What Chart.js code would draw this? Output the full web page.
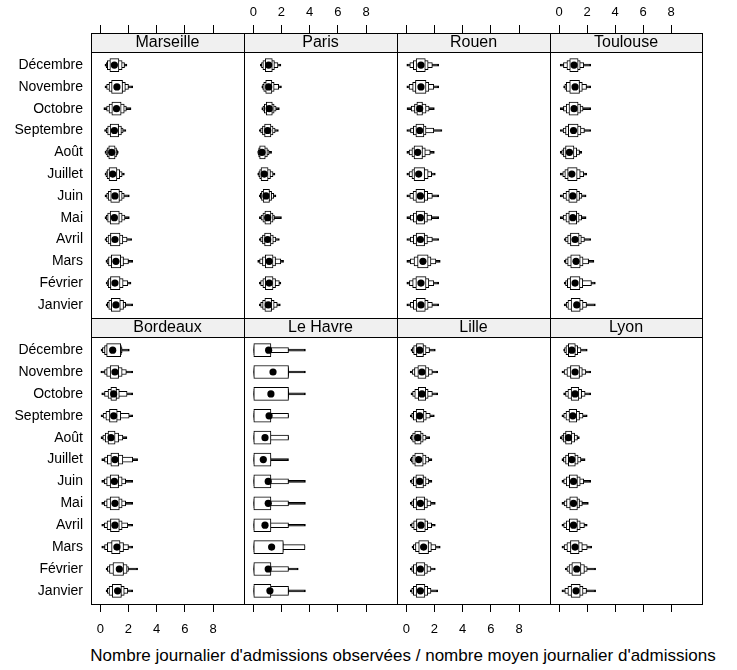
<!DOCTYPE html>
<html>
<head>
<meta charset="utf-8">
<script src="https://cdn.jsdelivr.net/npm/chart.js@4.4.1/dist/chart.umd.min.js"></script>
<style>
  body { margin: 0; background: #fff; }
  #wrap { position: relative; width: 737px; height: 670px; overflow: hidden; }
  #wrap canvas { position: absolute; left: 0; top: 0; }
  #xtitle { position: absolute; left: 0; width: 806px; top: 646px; text-align: center;
            font: 17px "Liberation Sans", Arial, sans-serif; color: #000; white-space: nowrap; }
</style>
</head>
<body>
<div id="wrap">
  <div id="xtitle">Nombre journalier d'admissions observées / nombre moyen journalier d'admissions</div>
</div>
<script>
// months from top to bottom of each panel
const months = ['Décembre', 'Novembre', 'Octobre', 'Septembre', 'Août', 'Juillet',
                'Juin', 'Mai', 'Avril', 'Mars', 'Février', 'Janvier'];
const xTicks = [0, 2, 4, 6, 8];

// each row: [median, lo1, hi1, lo2, hi2, lo3, hi3, lo4, hi4]  (letter values, level 1 = quartiles)
const marseille = [
  [1.00, 0.68, 1.32, 0.50, 1.55, 0.42, 1.72, 0.33, 1.89],
  [1.18, 0.80, 1.58, 0.62, 1.78, 0.45, 2.00, 0.33, 2.30],
  [1.15, 0.82, 1.48, 0.62, 1.70, 0.45, 1.85, 0.25, 2.18],
  [1.00, 0.70, 1.30, 0.52, 1.50, 0.42, 1.62, 0.30, 1.82],
  [0.81, 0.60, 1.05, 0.48, 1.15, 0.40, 1.22, 0.33, 1.28],
  [0.88, 0.62, 1.18, 0.48, 1.38, 0.40, 1.55, 0.33, 1.71],
  [1.04, 0.74, 1.36, 0.56, 1.55, 0.45, 1.70, 0.33, 2.06],
  [1.00, 0.70, 1.35, 0.52, 1.55, 0.42, 1.75, 0.33, 2.06],
  [1.04, 0.72, 1.40, 0.55, 1.60, 0.42, 1.90, 0.33, 2.23],
  [1.11, 0.78, 1.45, 0.58, 1.65, 0.48, 2.00, 0.40, 2.30],
  [1.04, 0.72, 1.40, 0.56, 1.62, 0.48, 1.95, 0.41, 2.18],
  [1.11, 0.78, 1.42, 0.60, 1.65, 0.50, 1.80, 0.41, 2.30]
];
const paris = [
  [1.09, 0.85, 1.35, 0.68, 1.50, 0.58, 1.75, 0.50, 1.96],
  [1.09, 0.88, 1.32, 0.74, 1.48, 0.66, 1.80, 0.60, 2.00],
  [1.13, 0.92, 1.35, 0.78, 1.48, 0.68, 1.62, 0.60, 1.85],
  [1.02, 0.80, 1.25, 0.65, 1.40, 0.52, 1.55, 0.43, 1.78],
  [0.62, 0.45, 0.85, 0.38, 1.00, 0.34, 1.12, 0.31, 1.30],
  [0.78, 0.55, 1.05, 0.45, 1.22, 0.38, 1.40, 0.31, 1.54],
  [0.90, 0.70, 1.15, 0.58, 1.30, 0.50, 1.45, 0.43, 1.61],
  [1.02, 0.82, 1.25, 0.68, 1.40, 0.55, 1.50, 0.43, 2.00],
  [1.02, 0.80, 1.25, 0.65, 1.42, 0.52, 1.60, 0.43, 1.85],
  [1.13, 0.85, 1.40, 0.65, 1.58, 0.45, 1.95, 0.31, 2.15],
  [1.13, 0.85, 1.40, 0.68, 1.58, 0.52, 1.85, 0.43, 1.96],
  [1.06, 0.82, 1.30, 0.66, 1.48, 0.52, 1.70, 0.43, 1.92]
];
const rouen = [
  [1.04, 0.70, 1.35, 0.50, 1.55, 0.25, 1.85, 0.00, 2.30],
  [1.04, 0.65, 1.40, 0.45, 1.60, 0.20, 1.95, 0.00, 2.30],
  [0.95, 0.75, 1.15, 0.58, 1.40, 0.35, 1.62, 0.05, 1.99],
  [0.95, 0.68, 1.25, 0.50, 1.40, 0.30, 1.95, 0.00, 2.53],
  [0.81, 0.55, 1.15, 0.40, 1.35, 0.20, 1.70, 0.00, 1.99],
  [0.88, 0.55, 1.30, 0.40, 1.55, 0.20, 1.80, 0.00, 2.06],
  [1.00, 0.68, 1.30, 0.48, 1.52, 0.25, 1.85, 0.00, 2.30],
  [1.00, 0.70, 1.30, 0.50, 1.50, 0.28, 1.80, 0.00, 2.30],
  [1.00, 0.70, 1.30, 0.50, 1.50, 0.28, 1.85, 0.00, 2.30],
  [1.18, 0.80, 1.55, 0.55, 1.75, 0.28, 2.10, 0.00, 2.41],
  [1.04, 0.68, 1.40, 0.45, 1.60, 0.22, 1.95, 0.00, 2.30],
  [1.04, 0.70, 1.35, 0.50, 1.55, 0.28, 1.85, 0.00, 2.30]
];
const toulouse = [
  [1.06, 0.75, 1.35, 0.55, 1.50, 0.30, 1.75, 0.07, 2.25],
  [1.13, 0.75, 1.45, 0.50, 1.65, 0.40, 1.95, 0.31, 2.25],
  [1.06, 0.70, 1.35, 0.50, 1.52, 0.30, 1.70, 0.07, 2.25],
  [1.02, 0.65, 1.35, 0.45, 1.55, 0.28, 1.80, 0.07, 2.25],
  [0.73, 0.45, 1.05, 0.30, 1.25, 0.18, 1.45, 0.07, 1.61],
  [0.90, 0.60, 1.28, 0.40, 1.50, 0.25, 1.75, 0.07, 1.96],
  [0.97, 0.68, 1.28, 0.48, 1.45, 0.28, 1.62, 0.07, 1.92],
  [0.97, 0.68, 1.25, 0.48, 1.42, 0.28, 1.60, 0.07, 1.92],
  [1.13, 0.80, 1.42, 0.60, 1.58, 0.45, 1.80, 0.35, 2.25],
  [1.20, 0.82, 1.50, 0.60, 1.70, 0.45, 2.10, 0.35, 2.48],
  [1.13, 0.78, 1.48, 0.58, 1.68, 0.45, 2.30, 0.35, 2.58],
  [1.25, 0.85, 1.50, 0.62, 1.70, 0.50, 1.95, 0.35, 2.58]
];
const bordeaux = [
  [0.88, 0.45, 1.45, 0.30, 1.50, 0.15, 1.55, 0.05, 2.06],
  [1.04, 0.70, 1.30, 0.45, 1.55, 0.30, 1.85, 0.00, 2.30],
  [0.95, 0.75, 1.15, 0.55, 1.35, 0.30, 1.90, 0.10, 2.30],
  [0.95, 0.65, 1.20, 0.40, 1.45, 0.20, 2.05, 0.05, 2.30],
  [0.76, 0.55, 1.05, 0.35, 1.30, 0.18, 1.60, 0.05, 1.89],
  [1.04, 0.75, 1.30, 0.50, 1.60, 0.30, 2.30, 0.10, 2.65],
  [1.00, 0.70, 1.30, 0.45, 1.55, 0.28, 1.80, 0.10, 2.30],
  [1.04, 0.70, 1.35, 0.45, 1.55, 0.28, 1.80, 0.10, 2.30],
  [1.04, 0.72, 1.35, 0.48, 1.55, 0.28, 1.95, 0.10, 2.30],
  [1.18, 0.80, 1.40, 0.50, 1.65, 0.30, 2.00, 0.10, 2.30],
  [1.35, 0.90, 1.65, 0.65, 1.90, 0.50, 2.00, 0.41, 2.65],
  [1.23, 0.85, 1.50, 0.62, 1.70, 0.50, 1.95, 0.41, 2.30]
];
const leHavre = [
  [1.09, 0, 1.25, 0, 1.25, 0, 2.50, 0, 3.70],
  [1.40, 0, 2.50, 0, 2.50, 0, 2.50, 0, 3.70],
  [1.25, 0, 2.50, 0, 2.50, 0, 2.50, 0, 3.70],
  [1.12, 0, 1.25, 0, 1.25, 0, 2.50, 0, 2.50],
  [0.83, 0, 1.25, 0, 1.25, 0, 2.50, 0, 2.50],
  [0.71, 0, 1.25, 0, 1.25, 0, 1.25, 0, 2.50],
  [1.06, 0, 1.25, 0, 1.25, 0, 2.50, 0, 3.70],
  [1.06, 0, 1.25, 0, 1.25, 0, 2.50, 0, 3.70],
  [0.83, 0, 1.25, 0, 1.25, 0, 2.50, 0, 3.70],
  [1.30, 0, 2.13, 0, 2.13, 0, 3.67, 0, 3.67],
  [1.06, 0, 1.25, 0, 1.25, 0, 2.50, 0, 3.19],
  [1.18, 0, 1.25, 0, 2.50, 0, 2.50, 0, 3.70]
];
const lille = [
  [0.95, 0.72, 1.22, 0.52, 1.40, 0.42, 1.65, 0.33, 2.06],
  [1.11, 0.82, 1.40, 0.58, 1.60, 0.42, 1.85, 0.28, 2.23],
  [1.11, 0.85, 1.38, 0.60, 1.55, 0.45, 1.85, 0.33, 2.23],
  [0.95, 0.70, 1.25, 0.50, 1.42, 0.38, 1.70, 0.28, 1.99],
  [0.81, 0.60, 1.05, 0.45, 1.20, 0.35, 1.40, 0.28, 1.66],
  [0.88, 0.60, 1.20, 0.45, 1.40, 0.35, 1.60, 0.28, 1.82],
  [0.95, 0.68, 1.22, 0.50, 1.40, 0.38, 1.60, 0.28, 1.82],
  [1.00, 0.70, 1.30, 0.50, 1.50, 0.38, 1.75, 0.28, 2.06],
  [1.04, 0.72, 1.35, 0.52, 1.52, 0.38, 1.80, 0.28, 2.06],
  [1.23, 0.88, 1.58, 0.65, 1.78, 0.50, 2.10, 0.40, 2.41],
  [1.00, 0.70, 1.32, 0.50, 1.50, 0.38, 1.75, 0.28, 2.06],
  [1.00, 0.70, 1.32, 0.50, 1.52, 0.38, 1.75, 0.28, 2.23]
];
const lyon = [
  [0.90, 0.65, 1.15, 0.48, 1.32, 0.38, 1.55, 0.31, 2.00],
  [1.13, 0.80, 1.45, 0.55, 1.65, 0.35, 1.90, 0.19, 2.25],
  [1.13, 0.85, 1.40, 0.62, 1.60, 0.45, 1.85, 0.31, 2.25],
  [0.97, 0.70, 1.25, 0.48, 1.45, 0.32, 1.70, 0.19, 2.00],
  [0.66, 0.45, 0.90, 0.30, 1.10, 0.18, 1.30, 0.07, 1.44],
  [0.90, 0.65, 1.15, 0.45, 1.35, 0.30, 1.55, 0.19, 1.85],
  [1.02, 0.72, 1.30, 0.50, 1.50, 0.32, 1.75, 0.19, 2.25],
  [1.02, 0.75, 1.30, 0.52, 1.45, 0.35, 1.65, 0.19, 2.08],
  [1.02, 0.72, 1.30, 0.50, 1.50, 0.32, 1.80, 0.19, 2.00],
  [1.13, 0.80, 1.42, 0.55, 1.65, 0.35, 2.00, 0.19, 2.32],
  [1.25, 0.90, 1.55, 0.70, 1.80, 0.55, 2.00, 0.43, 2.60],
  [1.20, 0.85, 1.50, 0.62, 1.70, 0.40, 1.95, 0.19, 2.60]
];

const panels = [
  { name: 'Marseille', rows: marseille, col: 0, row: 0 },
  { name: 'Paris',     rows: paris,     col: 1, row: 0 },
  { name: 'Rouen',     rows: rouen,     col: 2, row: 0 },
  { name: 'Toulouse',  rows: toulouse,  col: 3, row: 0 },
  { name: 'Bordeaux',  rows: bordeaux,  col: 0, row: 1 },
  { name: 'Le Havre',  rows: leHavre,   col: 1, row: 1 },
  { name: 'Lille',     rows: lille,     col: 2, row: 1 },
  { name: 'Lyon',      rows: lyon,      col: 3, row: 1 }
];

// page geometry
const W = 737, H = 670;
const colEdges = [91, 244, 397, 550, 702];
const levelHeight = [13, 9, 5, 2];
const levelFill = ['#fff', '#fff', '#fff', '#000'];

Chart.defaults.font.family = "'Liberation Sans', Arial, sans-serif";
Chart.defaults.color = '#000';

const stripPlugin = {
  id: 'strip',
  beforeDraw(chart) {
    const t = chart.titleBlock, ctx = chart.ctx;
    ctx.save();
    ctx.fillStyle = '#f0f0f0';
    ctx.fillRect(t.left, t.top, t.width, t.height);
    ctx.restore();
  },
  afterDraw(chart) {
    const t = chart.titleBlock, a = chart.chartArea, ctx = chart.ctx;
    ctx.save();
    ctx.strokeStyle = '#000';
    ctx.lineWidth = 1;
    ctx.strokeRect(a.left + 0.5, t.top + 0.5, a.right - a.left, a.bottom - t.top);
    ctx.beginPath();
    ctx.moveTo(a.left, a.top + 0.5);
    ctx.lineTo(a.right + 1, a.top + 0.5);
    ctx.stroke();
    ctx.restore();
  }
};

const wrap = document.getElementById('wrap');

panels.forEach(p => {
  const canvas = document.createElement('canvas');
  canvas.width = W;
  canvas.height = H;
  wrap.appendChild(canvas);

  const left = colEdges[p.col], right = colEdges[p.col + 1];
  const top = p.row === 0;
  const showX = top ? (p.col % 2 === 1) : (p.col % 2 === 0);
  const showY = p.col === 0;

  const datasets = [{
    type: 'scatter',
    data: p.rows.map((r, i) => ({ x: r[0], y: i + 1 })),
    pointRadius: 3.6,
    pointHoverRadius: 3.6,
    backgroundColor: '#000',
    borderWidth: 0
  }];
  for (let k = 0; k < 4; k++) {
    datasets.push({
      type: 'bar',
      data: p.rows.map((r, i) => ({ y: i + 1, x: [r[1 + 2 * k], r[2 + 2 * k]] })),
      barThickness: levelHeight[k],
      grouped: false,
      backgroundColor: levelFill[k],
      borderColor: '#000',
      borderWidth: 1,
      borderSkipped: false
    });
  }

  new Chart(canvas, {
    type: 'bar',
    data: { datasets },
    options: {
      responsive: false,
      animation: false,
      events: [],
      indexAxis: 'y',
      layout: {
        padding: top
          ? { top: 0, bottom: H - 318, left: showY ? 0 : left, right: W - right }
          : { top: 318, bottom: H - 604 - 40, left: showY ? 0 : left, right: W - right }
      },
      plugins: {
        legend: { display: false },
        tooltip: { enabled: false },
        title: {
          display: true,
          text: p.name,
          fullSize: false,
          font: { size: 16, weight: 'normal', lineHeight: '17px' },
          padding: { top: 1, bottom: 1 },
          color: '#000'
        }
      },
      scales: {
        x: {
          type: 'linear',
          position: top ? 'top' : 'bottom',
          weight: 3000,
          min: -0.66,
          max: 10.2,
          afterBuildTicks: s => { s.ticks = xTicks.map(v => ({ value: v })); },
          afterFit: s => { s.height = top ? 33 : 40; },
          grid: { display: true, drawOnChartArea: false, drawTicks: true, tickLength: 8, color: '#000' },
          border: { display: false },
          ticks: {
            display: showX,
            autoSkip: false,
            maxRotation: 0,
            padding: top ? 5 : 10,
            font: { size: 13 }
          }
        },
        y: {
          type: 'linear',
          reverse: true,
          min: 0.4,
          max: 12.6,
          offset: false,
          display: showY,
          afterBuildTicks: s => { s.ticks = months.map((m, i) => ({ value: i + 1 })); },
          afterFit: s => { s.width = showY ? 91 : 0; },
          grid: { display: false, drawTicks: false, offset: false },
          border: { display: false },
          ticks: {
            padding: 8,
            autoSkip: false,
            font: { size: 14 },
            callback: v => months[v - 1]
          }
        }
      }
    },
    plugins: [stripPlugin]
  });
});
</script>
</body>
</html>
